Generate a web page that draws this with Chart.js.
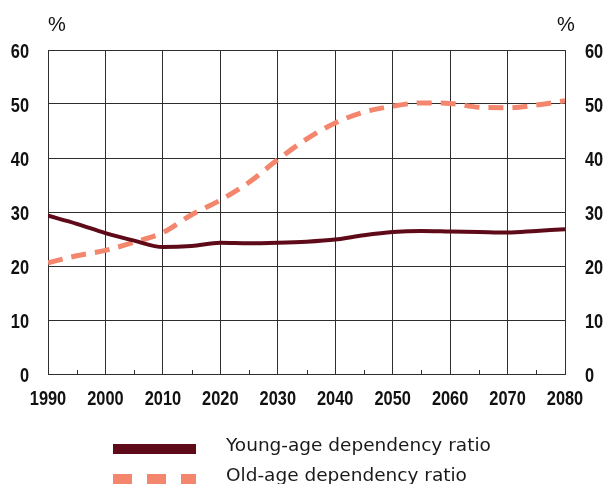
<!DOCTYPE html>
<html>
<head>
<meta charset="utf-8">
<script src="https://cdn.jsdelivr.net/npm/chart.js@4.4.1/dist/chart.umd.min.js"></script>
<style>
  html, body { margin: 0; padding: 0; background: #fff; }
  canvas { display: block; }
</style>
</head>
<body>
<canvas id="chart" width="606" height="484"></canvas>
<script>
// Values (5-year steps)
const years = [1990, 1995, 2000, 2005, 2010, 2015, 2020, 2025, 2030, 2035, 2040, 2045, 2050, 2055, 2060, 2065, 2070, 2075, 2080];
const youngRatio = [29.3, 27.8, 26.1, 24.7, 23.5, 23.7, 24.3, 24.2, 24.3, 24.5, 24.9, 25.7, 26.3, 26.5, 26.4, 26.3, 26.2, 26.5, 26.8];
const oldRatio = [20.6, 21.9, 22.9, 24.4, 26.2, 29.5, 32.2, 35.5, 39.7, 43.5, 46.5, 48.5, 49.6, 50.2, 50.1, 49.4, 49.3, 49.8, 50.6];
const seriesNames = ["Young-age dependency ratio", "Old-age dependency ratio"];
const unitLabel = "%";

const YOUNG_COLOR = "#5e0a18";
const OLD_COLOR = "#f4866d";
const GRID_COLOR = "#2e2e2e";
const TICK_FONT = 'bold 21px "Liberation Sans", Arial, sans-serif';
const SQUEEZE = 0.78; // the original uses a narrow bold face

const toPoints = (vals) => years.map((yr, i) => ({ x: yr, y: vals[i] }));

// draw narrow text: squeeze horizontally around the anchor point
function narrowText(ctx, text, x, y, align) {
  ctx.save();
  ctx.translate(x, y);
  ctx.scale(SQUEEZE, 1);
  ctx.textAlign = align;
  ctx.fillText(text, 0, 0);
  ctx.restore();
}

// Minor ticks, tick labels, percent labels and the legend
const extrasPlugin = {
  id: "extras",
  afterDatasetsDraw(chart) {
    const { ctx, chartArea, scales } = chart;
    ctx.save();
    ctx.strokeStyle = GRID_COLOR;
    ctx.lineWidth = 1;
    for (let yr = 1995; yr < 2080; yr += 10) {
      const px = Math.round(scales.x.getPixelForValue(yr)) + 0.5;
      ctx.beginPath();
      ctx.moveTo(px, chartArea.bottom);
      ctx.lineTo(px, chartArea.bottom - 4);
      ctx.stroke();
    }
    ctx.restore();
  },
  afterDraw(chart) {
    const { ctx, chartArea, scales } = chart;
    ctx.save();
    ctx.fillStyle = "#111";
    ctx.font = TICK_FONT;
    ctx.textBaseline = "alphabetic";
    scales.x.ticks.forEach((t) => {
      narrowText(ctx, String(t.value), scales.x.getPixelForValue(t.value), chartArea.bottom + 31, "center");
    });
    scales.y.ticks.forEach((t) => {
      narrowText(ctx, String(t.value), chartArea.left - 19, scales.y.getPixelForValue(t.value) + 7.5, "right");
    });
    scales.y2.ticks.forEach((t) => {
      narrowText(ctx, String(t.value), chartArea.right + 20, scales.y2.getPixelForValue(t.value) + 7.5, "left");
    });

    // unit labels above both axes
    ctx.font = '20px "Liberation Sans", Arial, sans-serif';
    ctx.textAlign = "center";
    ctx.textBaseline = "middle";
    ctx.fillText(unitLabel, chartArea.left + 9, 25);
    ctx.fillText(unitLabel, chartArea.right + 1, 25);

    // legend
    const sx = 113, ex = 196;
    const sets = chart.data.datasets;
    ctx.lineCap = "butt";
    ctx.lineWidth = 10;
    ctx.strokeStyle = sets[0].borderColor;
    ctx.beginPath();
    ctx.moveTo(sx, 449);
    ctx.lineTo(ex, 449);
    ctx.stroke();
    ctx.strokeStyle = sets[1].borderColor;
    ctx.setLineDash([19, 15]);
    ctx.beginPath();
    ctx.moveTo(sx, 479);
    ctx.lineTo(ex, 479);
    ctx.stroke();
    ctx.setLineDash([]);

    ctx.fillStyle = "#1a1a1a";
    ctx.font = '18.5px "DejaVu Sans", Verdana, sans-serif';
    ctx.textAlign = "left";
    ctx.textBaseline = "alphabetic";
    ctx.fillText(sets[0].label, 226, 451);
    ctx.fillText(sets[1].label, 226, 481);
    ctx.restore();
  }
};

new Chart(document.getElementById("chart"), {
  type: "line",
  data: {
    datasets: [
      {
        label: seriesNames[0],
        data: toPoints(youngRatio),
        borderColor: YOUNG_COLOR,
        borderWidth: 4,
        pointRadius: 0,
        tension: 0.4,
        cubicInterpolationMode: "monotone",
        fill: false,
        yAxisID: "y"
      },
      {
        label: seriesNames[1],
        data: toPoints(oldRatio),
        borderColor: OLD_COLOR,
        borderWidth: 5,
        borderDash: [15, 9],
        pointRadius: 0,
        tension: 0.4,
        cubicInterpolationMode: "monotone",
        fill: false,
        yAxisID: "y"
      }
    ]
  },
  options: {
    responsive: false,
    animation: false,
    layout: { padding: { top: 50, left: 0, right: 0, bottom: 0 } },
    plugins: { legend: { display: false }, tooltip: { enabled: false } },
    scales: {
      x: {
        type: "linear",
        min: 1990,
        max: 2080,
        afterFit: (s) => { s.height = 110; },
        ticks: { stepSize: 10, display: false },
        grid: { color: GRID_COLOR, lineWidth: 1, drawTicks: false },
        border: { color: GRID_COLOR, width: 1 }
      },
      y: {
        position: "left",
        min: 0,
        max: 60,
        afterFit: (s) => { s.width = 48; },
        ticks: { stepSize: 10, display: false },
        grid: { color: GRID_COLOR, lineWidth: 1, drawTicks: false },
        border: { color: GRID_COLOR, width: 1 }
      },
      y2: {
        position: "right",
        min: 0,
        max: 60,
        afterFit: (s) => { s.width = 41; },
        ticks: { stepSize: 10, display: false },
        grid: { display: false, drawTicks: false },
        border: { color: GRID_COLOR, width: 1 }
      }
    }
  },
  plugins: [extrasPlugin]
});
</script>
</body>
</html>
